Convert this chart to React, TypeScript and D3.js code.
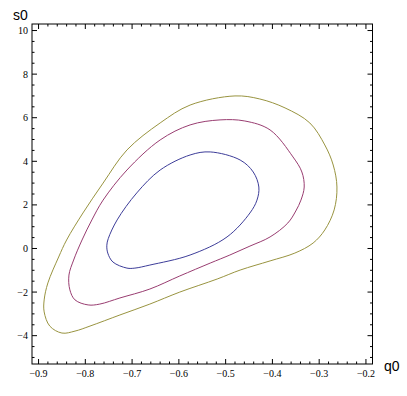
import React from "react";
import * as d3 from "d3";

// Contour levels (Mathematica-style ContourPlot, three closed curves)
const innerQ = [-0.711, -0.741, -0.752, -0.754, -0.751, -0.732, -0.69, -0.64, -0.576, -0.533, -0.469, -0.441, -0.429, -0.433, -0.448, -0.497, -0.576, -0.662, -0.694];
const innerS = [-0.9, -0.62, -0.21, 0.15, 0.45, 1.31, 2.55, 3.6, 4.29, 4.43, 4.06, 3.51, 2.82, 2.22, 1.63, 0.53, -0.3, -0.76, -0.9];

const middleQ = [-0.794, -0.822, -0.833, -0.835, -0.825, -0.807, -0.786, -0.762, -0.711, -0.64, -0.576, -0.512, -0.459, -0.405, -0.356, -0.337, -0.332, -0.339, -0.35, -0.367, -0.405, -0.448, -0.491, -0.533, -0.598, -0.662, -0.726, -0.769];
const middleS = [-2.59, -2.36, -1.9, -1.22, -0.53, 0.39, 1.31, 2.22, 3.6, 4.98, 5.67, 5.9, 5.85, 5.44, 4.2, 3.51, 2.82, 2.22, 1.72, 1.17, 0.53, 0.11, -0.3, -0.67, -1.26, -1.86, -2.27, -2.55];

const outerQ = [-0.85, -0.876, -0.888, -0.888, -0.88, -0.857, -0.84, -0.805, -0.762, -0.711, -0.64, -0.576, -0.48, -0.427, -0.373, -0.32, -0.288, -0.27, -0.262, -0.268, -0.288, -0.313, -0.352, -0.405, -0.469, -0.518, -0.598, -0.662, -0.726, -0.79, -0.822];
const outerS = [-3.88, -3.56, -2.91, -2.36, -1.58, -0.39, 0.39, 1.63, 3.0, 4.52, 5.76, 6.58, 7.0, 6.86, 6.45, 5.76, 4.75, 3.83, 2.82, 1.77, 0.85, 0.25, -0.21, -0.57, -0.99, -1.4, -2.0, -2.55, -3.05, -3.56, -3.79];

const xMajor = [-0.9, -0.8, -0.7, -0.6, -0.5, -0.4, -0.3, -0.2];
const xMajorLabels = ["−0.9", "−0.8", "−0.7", "−0.6", "−0.5", "−0.4", "−0.3", "−0.2"];
const yMajor = [-4, -2, 0, 2, 4, 6, 8, 10];
const yMajorLabels = ["−4", "−2", "0", "2", "4", "6", "8", "10"];

const contourColors = ["#3d3d99", "#993d71", "#999440"];

export default function App() {
  const W = 407, H = 396;
  const left = 32, right = 372.5, top = 24, bottom = 364;
  const x = d3.scaleLinear().domain([-0.914, -0.186]).range([left, right]);
  const y = d3.scaleLinear().domain([-5.3, 10.3]).range([bottom, top]);

  const line = d3
    .line<[number, number]>()
    .x((d) => x(d[0]))
    .y((d) => y(d[1]))
    .curve(d3.curveCatmullRomClosed.alpha(0.5));

  const series = [
    { q: innerQ, s: innerS },
    { q: middleQ, s: middleS },
    { q: outerQ, s: outerS },
  ];

  // minor ticks
  const xMinor: number[] = [];
  for (let i = -45; i <= -10; i++) {
    const v = i * 0.02;
    if (v >= -0.914 && v <= -0.186 && Math.abs(v * 10 - Math.round(v * 10)) > 1e-6) xMinor.push(v);
  }
  const yMinor: number[] = [];
  for (let i = -10; i <= 20; i++) {
    const v = i * 0.5;
    if (v >= -5.3 && v <= 10.3 && Math.abs(v / 2 - Math.round(v / 2)) > 1e-6) yMinor.push(v);
  }

  const major = 5, minor = 2.5;
  const tickFont = "'Liberation Serif', 'DejaVu Serif', serif";

  return (
    <svg width={W} height={H} style={{ position: "absolute", left: 0, top: 0, background: "#fff" }}>
      <rect x={0} y={0} width={W} height={H} fill="#fff" />
      {series.map((sr, i) => (
        <path
          key={i}
          d={line(sr.q.map((q, j) => [q, sr.s[j]] as [number, number])) || ""}
          fill="none"
          stroke={contourColors[i]}
          strokeWidth={1}
        />
      ))}
      <rect x={left} y={top} width={right - left} height={bottom - top} fill="none" stroke="#000" strokeWidth={1} />
      <g stroke="#000" strokeWidth={1}>
        {xMajor.map((v) => (
          <g key={"xm" + v}>
            <line x1={x(v)} x2={x(v)} y1={bottom} y2={bottom - major} />
            <line x1={x(v)} x2={x(v)} y1={top} y2={top + major} />
          </g>
        ))}
        {xMinor.map((v) => (
          <g key={"xn" + v}>
            <line x1={x(v)} x2={x(v)} y1={bottom} y2={bottom - minor} />
            <line x1={x(v)} x2={x(v)} y1={top} y2={top + minor} />
          </g>
        ))}
        {yMajor.map((v) => (
          <g key={"ym" + v}>
            <line x1={left} x2={left + major} y1={y(v)} y2={y(v)} />
            <line x1={right} x2={right - major} y1={y(v)} y2={y(v)} />
          </g>
        ))}
        {yMinor.map((v) => (
          <g key={"yn" + v}>
            <line x1={left} x2={left + minor} y1={y(v)} y2={y(v)} />
            <line x1={right} x2={right - minor} y1={y(v)} y2={y(v)} />
          </g>
        ))}
      </g>
      <g fontFamily={tickFont} fontSize={10} fill="#000">
        {xMajor.map((v, i) => (
          <text key={"xl" + v} x={x(v)} y={bottom + 13} textAnchor="middle">
            {xMajorLabels[i]}
          </text>
        ))}
        {yMajor.map((v, i) => (
          <text key={"yl" + v} x={left - 4} y={y(v) + 3.5} textAnchor="end">
            {yMajorLabels[i]}
          </text>
        ))}
      </g>
      <text x={13} y={19.5} fontFamily="'Liberation Sans', Arial, sans-serif" fontSize={14} fill="#000">
        s0
      </text>
      <text x={384} y={371} fontFamily="'Liberation Sans', Arial, sans-serif" fontSize={14} fill="#000">
        q0
      </text>
    </svg>
  );
}
